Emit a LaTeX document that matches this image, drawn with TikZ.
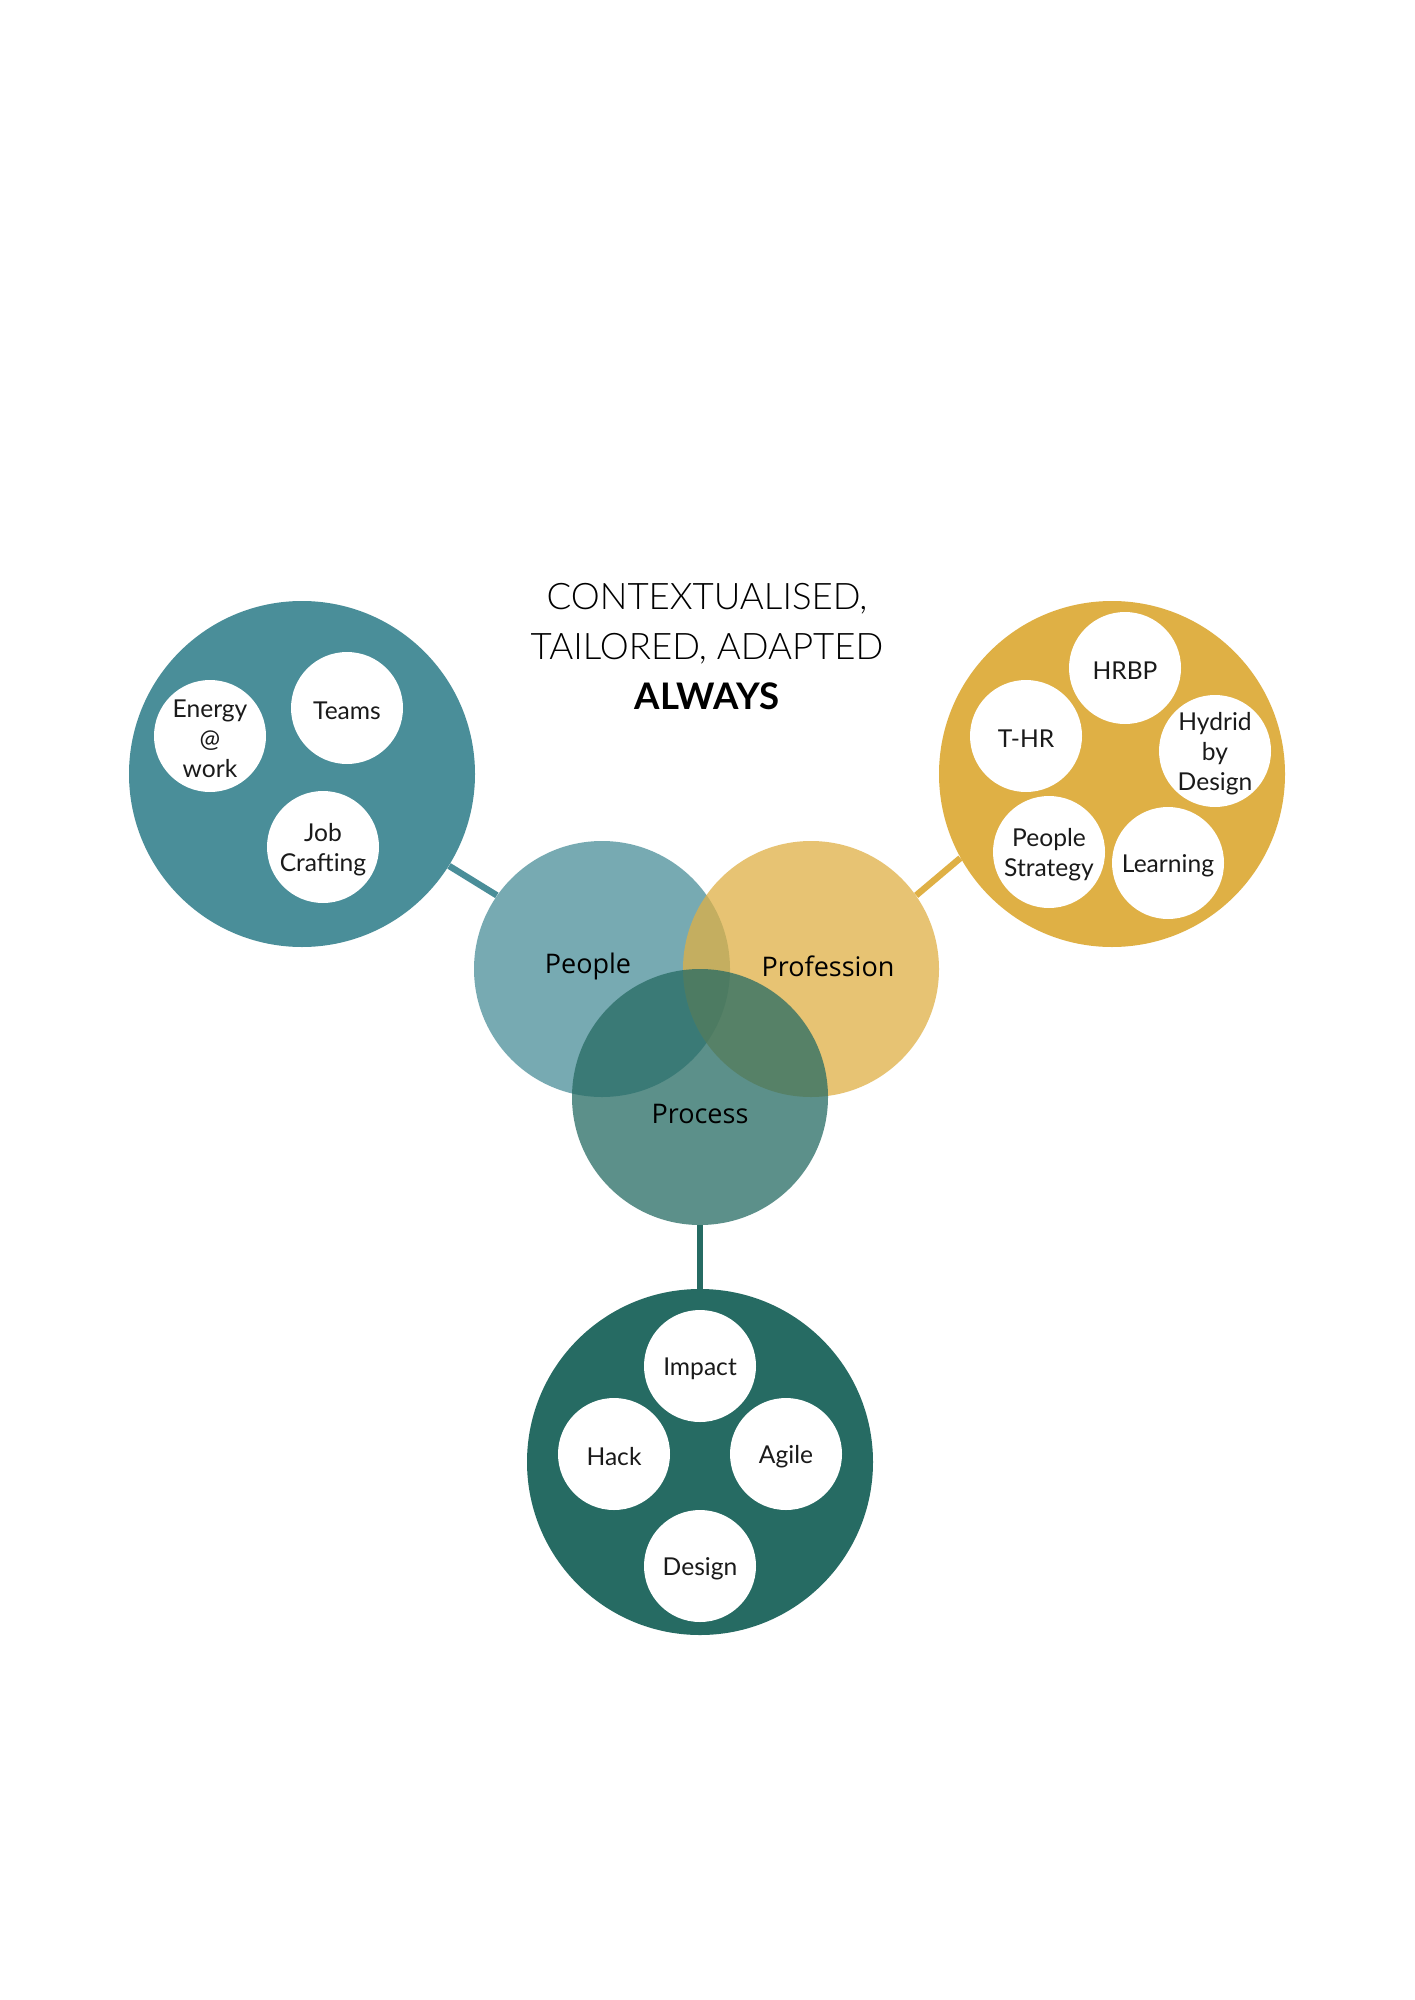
\documentclass[tikz,border=0pt]{standalone}
\usepackage{fontspec}
\setmainfont{Lato}
\newfontfamily\vennfont{Open Sans}
\IfFontExistsTF{Lato Light}{\newfontfamily\titlefont{Lato Light}[BoldFont=Lato Bold]}{\newfontfamily\titlefont{Lato}}
\definecolor{tealA}{HTML}{4A8E99}
\definecolor{goldA}{HTML}{DFB045}
\definecolor{greenA}{HTML}{266B63}
\definecolor{ink}{HTML}{1A1A1A}
\begin{document}
\begin{tikzpicture}[x=0.5pt,y=-0.5pt,
  bigc/.style={circle,minimum size=173pt,inner sep=0pt},
  vennc/.style={circle,minimum size=128pt,inner sep=0pt,fill opacity=0.75},
  smallc/.style={circle,fill=white,minimum size=56pt,inner sep=0pt},
  stxt/.style={align=center,font=\fontsize{12.3}{15}\selectfont,text=ink,yshift=-1.5pt,inner sep=0pt},
  vlabel/.style={font=\vennfont\fontsize{13.5}{16}\selectfont,text=black},
  conn/.style={line width=3.2pt}]
\fill[white] (0,0) rectangle (1414,2000);
\useasboundingbox (0,0) rectangle (1414,2000);
% title
\node[align=center,text=black,font=\titlefont\fontsize{18.3}{25}\selectfont] (title) at (707,647)
  {CONTEXTUALISED,\\TAILORED, ADAPTED\\\textbf{ALWAYS}};
% big circles
\node[bigc,fill=tealA] (leftbig) at (302,774) {};
\node[bigc,fill=goldA] (rightbig) at (1112,774) {};
\node[bigc,fill=greenA] (botbig) at (700,1462) {};
% venn circles
\node[vennc,fill=tealA] (people) at (602,969) {};
\node[vennc,fill=goldA] (profession) at (811,969) {};
\node[vennc,fill=greenA] (process) at (700,1097) {};
\node[vlabel] (peoplelbl) at (588,966) {People};
\node[vlabel] (proflbl) at (828,966) {Profession};
\node[vlabel] (proclbl) at (700,1114) {Process};
% connectors
\draw[conn,tealA] (leftbig.-32) -- (people.145);
\draw[conn,goldA] (rightbig.209) -- (profession.35);
\draw[conn,greenA] (process) -- (botbig);
% left small circles
\node[smallc,label={[stxt]center:Energy\\@\\work}] (energy) at (210,736) {};
\node[smallc,label={[stxt]center:Teams}] (teams) at (347,708) {};
\node[smallc,label={[stxt]center:Job\\Crafting}] (job) at (323,847) {};
% right small circles
\node[smallc,label={[stxt]center:HRBP}] (hrbp) at (1125,668) {};
\node[smallc,label={[stxt]center:T-HR}] (thr) at (1026,736) {};
\node[smallc,label={[stxt]center:Hydrid\\by\\Design}] (hydrid) at (1215,751) {};
\node[smallc,label={[stxt]center:People\\Strategy}] (pstrat) at (1049,852) {};
\node[smallc,label={[stxt]center:Learning}] (learning) at (1168,863) {};
% bottom small circles
\node[smallc,label={[stxt]center:Impact}] (impact) at (700,1366) {};
\node[smallc,label={[stxt]center:Hack}] (hack) at (614,1454) {};
\node[smallc,label={[stxt]center:Agile}] (agile) at (786,1454) {};
\node[smallc,label={[stxt]center:Design}] (design) at (700,1566) {};
\end{tikzpicture}
\end{document}
